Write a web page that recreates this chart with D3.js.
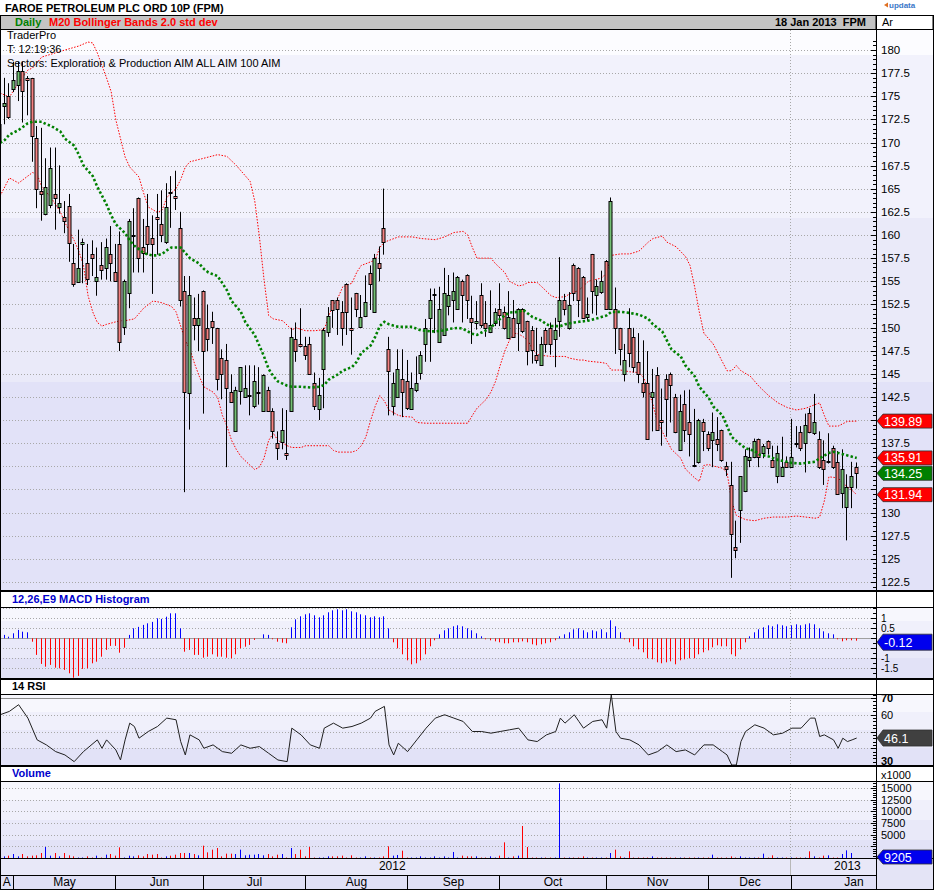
<!DOCTYPE html>
<html><head><meta charset="utf-8">
<script src="https://cdn.jsdelivr.net/npm/d3@7"></script>
<style>
body{margin:0;background:#fff;}
svg{display:block;font-family:"Liberation Sans",Arial,sans-serif;}
</style></head><body>
<svg id="c" width="934" height="890"></svg>
<script>
// ---------------- DATA ----------------
const monthStartIdx = [0, 3, 25, 44, 66, 88, 108, 131, 153, 171, 198];
const monthLabels = ["A","May","Jun","Jul","Aug","Sep","Oct","Nov","Dec","Jan"];
const yearLabels = ["2012","2013"];
const yearLabelIdx = [84.7, 183];
const yearBoundaryIdx = 170.7;

const open = [170.04,173.98,175.06,175.83,176.22,177.76,176.99,176.99,170.5,164.75,162.32,163.29,164.44,163.09,161.93,163.09,157.0,154.99,159.04,157.0,157.96,155.06,156.8,156.42,157.96,156.03,159.04,149.97,153.75,160.0,164.02,158.73,160.97,159.7,161.93,161.16,159.23,164.64,164.25,160.78,153.91,143.02,151.01,150.28,153.91,149.97,150.66,149.97,146.69,146.5,143.02,138.78,143.1,142.52,142.71,141.48,143.0,140.97,143.21,140.97,137.54,137.54,136.46,140.97,
148.73,148.23,148.04,148.23,143.99,141.21,145.53,149.5,152.98,152.98,151.71,154.72,149.97,153.71,149.97,151.24,155.95,151.71,157.0,160.78,147.65,141.48,142.52,144.45,144.18,141.21,143.21,145.14,148.23,151.05,153.56,148.42,149.2,152.4,152.98,152.01,155.06,155.68,151.05,150.47,153.56,150.47,149.5,150.47,152.01,151.71,148.81,151.05,150.47,152.01,150.74,149.78,147.07,145.92,149.78,149.97,148.81,150.66,152.98,149.97,156.8,156.45,155.49,
151.2,157.96,153.56,153.91,157.19,152.01,152.01,149.97,145.03,149.97,149.0,146.3,143.99,143.99,142.52,144.84,140.01,144.45,144.95,142.52,136.73,141.75,139.74,135.1,135.42,139.74,138.51,137.81,138.0,138.97,135.0,132.99,126.31,130.28,132.41,135.69,136.0,137.93,136.46,137.73,135.69,133.95,133.95,135.49,134.91,137.55,138.7,137.54,140.78,138.51,137.93,135.69,135.6,136.96,135.49,132.14,130.67,132.79,134.92];
const high = [172.55,176.99,176.41,178.73,178.73,178.73,177.18,176.99,171.78,171.59,168.3,169.46,169.46,167.53,163.67,164.44,159.04,160.58,159.62,159.04,159.43,158.65,159.23,159.62,160.97,159.04,160.39,155.18,161.74,162.9,164.06,161.74,164.44,162.13,164.44,164.83,165.6,166.37,166.95,162.51,155.57,155.57,153.25,153.64,154.02,152.48,151.71,149.97,147.65,148.23,144.95,143.6,145.72,145.92,145.92,145.92,145.72,144.95,143.6,141.28,138.78,141.28,141.09,149.97,
150.55,152.09,149.0,149.0,145.14,144.56,149.97,152.21,152.98,153.25,152.86,154.79,153.25,153.75,153.52,155.64,156.72,157.96,158.77,165.02,149.0,145.14,147.65,147.65,146.5,145.14,146.88,147.46,150.93,154.22,154.22,154.41,156.45,155.68,155.95,155.57,155.18,155.76,153.44,152.86,154.79,152.86,154.02,152.09,154.79,152.28,153.94,152.98,152.09,152.09,150.74,150.16,149.97,149.0,149.97,150.55,151.05,157.61,153.64,153.83,156.92,156.53,155.57,
153.25,157.96,155.18,156.15,157.3,164.06,154.33,149.97,148.23,152.09,149.97,149.4,148.62,147.46,145.53,145.72,143.41,144.95,145.14,142.83,142.75,143.21,143.29,141.21,140.13,140.13,138.78,140.82,140.32,138.97,135.49,135.49,129.13,133.95,136.84,137.04,138.0,138.0,137.42,137.81,137.23,137.23,138.2,136.07,140.13,139.35,139.35,140.7,141.28,142.83,138.78,137.81,138.58,137.23,136.65,136.84,134.14,135.49,135.42];
const low = [169.46,171.97,172.55,175.45,174.48,172.16,172.94,167.92,162.9,161.55,162.13,162.9,160.58,162.32,160.2,157.11,154.41,154.99,154.79,154.6,155.57,153.44,155.18,155.18,154.99,154.99,147.46,149.2,152.09,155.95,155.95,155.95,157.88,153.64,157.88,159.23,159.04,160.78,162.71,152.28,132.21,138.97,148.62,147.46,140.7,147.46,148.23,143.21,142.25,134.91,141.86,138.78,141.67,142.44,140.51,141.28,141.67,140.9,140.9,138.0,135.69,136.84,135.69,140.9,
146.3,147.85,146.5,144.95,141.09,140.01,141.28,149.0,149.97,149.2,148.04,149.2,147.07,151.13,149.97,151.13,151.9,151.71,154.99,157.88,140.51,140.51,142.44,140.32,141.09,141.09,143.02,144.37,146.3,146.3,149.4,148.42,149.2,151.32,150.55,151.9,150.55,150.93,148.23,149.78,149.97,149.0,149.4,150.16,150.16,149.78,148.81,149.0,147.46,149.4,145.92,146.11,146.11,145.92,147.27,147.07,145.72,149.0,151.32,149.78,152.86,151.13,150.93,
150.74,151.51,151.32,153.64,151.9,151.9,147.15,145.92,144.18,145.72,145.14,143.99,142.44,137.93,138.78,138.89,137.23,138.2,139.74,138.58,136.65,137.62,136.07,134.91,135.3,136.65,136.65,134.91,136.65,135.49,133.95,122.95,125.07,126.73,132.21,134.91,135.88,134.91,135.88,136.27,134.91,133.18,133.95,134.91,134.91,137.04,136.65,134.34,138.58,138.39,134.72,132.99,135.3,134.72,132.02,130.48,127.0,130.48,132.6];
const close = [171.97,174.29,172.74,176.8,177.76,175.64,176.72,170.74,165.02,164.44,165.22,167.26,163.98,163.48,161.55,159.04,154.72,156.45,159.23,155.26,157.5,155.49,156.26,158.73,157.0,155.06,148.5,154.99,161.55,160.05,157.57,158.08,159.04,159.04,161.74,160.0,163.02,164.5,164.02,152.98,143.02,153.56,150.28,151.01,147.46,148.81,149.97,144.49,144.95,143.48,141.94,143.21,145.72,143.48,142.75,144.18,143.05,144.84,140.97,138.78,137.04,138.89,136.19,149.0,
147.46,147.96,147.07,144.95,141.48,142.71,149.78,151.24,151.9,152.01,149.97,151.71,149.74,152.01,151.09,152.75,154.72,157.5,156.45,159.23,145.22,143.99,145.53,143.02,141.21,143.48,143.99,147.07,149.97,152.98,153.6,152.01,153.75,153.56,153.94,155.49,153.52,152.98,150.66,150.74,150.28,149.97,150.28,151.71,151.32,149.97,151.09,149.0,152.01,149.58,147.46,147.65,146.5,148.23,148.23,148.23,149.78,152.98,152.01,152.48,153.75,152.98,151.05,
151.51,153.91,154.52,155.06,152.01,163.67,149.97,147.73,146.5,147.27,145.72,144.95,143.02,137.93,143.02,138.89,139.74,142.33,143.72,138.78,140.97,138.89,138.47,135.05,140.01,138.78,136.96,138.7,137.5,135.69,134.72,127.7,125.96,133.95,136.15,136.0,137.73,136.0,137.23,136.96,134.91,136.46,134.91,134.91,136.0,137.5,136.96,139.47,138.7,139.74,134.91,134.72,135.61,134.91,132.02,134.72,132.79,133.95,134.25];

// volume in thousands
const volume = [100,357,500,857,357,857,357,500,571,1071,2356,500,1071,357,1071,571,357,100,100,357,100,500,100,714,857,500,2286,100,500,357,571,357,857,714,857,100,357,500,714,1071,1071,1071,857,571,2642,1214,1786,2143,357,929,929,857,1786,571,714,714,857,571,857,357,714,857,100,2143,857,
1786,357,2357,100,100,100,357,357,357,500,100,571,100,100,357,100,100,100,357,2500,500,643,1570,100,100,100,357,100,100,357,100,357,100,1290,100,500,357,357,357,100,100,357,100,500,3357,100,357,500,6860,2357,100,100,100,100,100,100,16000,100,100,100,100,357,100,100,100,100,100,1071,1786,357,100,1430,100,100,100,100,357,
100,100,100,100,100,100,100,100,100,100,100,100,714,100,100,100,357,100,357,100,100,100,100,929,100,571,100,100,100,100,100,100,100,1430,357,100,500,571,100,100,857,1643,1071,9.205];

const macd = [0.05,0.17,0.08,0.25,0.42,0.33,0.3,-0.17,-0.83,-1.28,-1.42,-1.33,-1.47,-1.5,-1.58,-1.75,-1.97,-1.88,-1.53,-1.5,-1.25,-1.17,-0.92,-0.58,-0.38,-0.38,-0.72,-0.47,0.17,0.5,0.57,0.67,0.75,0.82,1.0,0.97,1.08,1.25,1.25,0.5,-0.67,-0.58,-0.83,-0.83,-0.97,-0.92,-0.8,-0.92,-0.92,-0.97,-1.0,-0.8,-0.5,-0.42,-0.33,-0.08,0,0.2,0.17,-0.05,-0.17,-0.22,-0.25,0.55,0.95,
1.1,1.2,1.25,1.15,1.05,1.15,1.3,1.4,1.45,1.4,1.45,1.35,1.3,1.2,1.15,1.05,1.1,1.05,1.1,0.5,-0.2,-0.5,-0.8,-1.1,-1.3,-1.25,-1.1,-0.8,-0.4,-0.1,0.2,0.4,0.5,0.6,0.65,0.6,0.5,0.4,0.25,0.1,-0.05,-0.1,-0.15,-0.2,-0.25,-0.25,-0.2,-0.2,-0.15,-0.2,-0.3,-0.35,-0.3,-0.25,-0.2,-0.1,0.1,0.2,0.3,0.45,0.5,0.4,0.3,0.4,0.35,0.45,0.3,0.9,0.6,0.3,-0.05,-0.2,-0.4,-0.55,-0.7,-1.0,-1.05,-1.2,-1.25,-1.2,-1.15,-1.3,-1.1,-1.05,-1.0,-1.0,-0.8,-0.7,-0.6,-0.45,-0.35,-0.4,-0.4,-0.8,-0.9,-0.55,-0.2,0.1,0.3,0.45,0.55,0.65,0.6,0.7,0.65,0.6,0.65,0.7,0.65,0.7,0.75,0.7,0.5,0.35,0.25,0.2,-0.05,-0.15,-0.1,-0.1,-0.12];

const rsi = [[0,60],[2,62],[4,66],[6,58],[8,45],[10,42],[12,38],[14,36],[16,32],[18,38],[21,45],[22,40],[23,45],[24,42],[25,39],[26,33],[27,45],[28,55],[29,53],[30,46],[32,50],[34,53],[36,58],[38,57],[39,44],[40,36],[41,48],[43,45],[44,40],[46,42],[48,38],[50,37],[52,42],[54,40],[56,41],[58,37],[60,33],[62,32],[63,52],[65,48],[67,42],[69,40],[70,52],[72,55],[74,52],[76,53],[78,55],[80,58],[81,62],[83,65],[84,42],[85,36],[86,43],[88,38],[90,45],[92,52],[94,58],[96,60],[98,58],[100,56],[102,50],[104,50],[106,49],[108,50],[110,51],[112,52],[114,45],[116,44],[118,48],[120,50],[121,58],[122,55],[124,60],[125,56],[126,52],[128,56],[130,57],[131,52],[132,72],[133,50],[134,46],[136,45],[138,42],[140,36],[142,38],[144,42],[146,38],[148,39],[150,36],[152,42],[154,42],[156,38],[157,36],[158,30],[159,30],[160,44],[161,50],[163,54],[165,52],[167,48],[169,49],[171,52],[173,52],[175,58],[176,58],[177,47],[178,48],[180,45],[181,40],[182,46],[183,44],[184,45],[185,46.1]];

const bbUpper = [[0,175.35],[2,174.92],[4,176.43],[6,177.84],[7,178.05],[9,179.24],[14,180.0],[17,180.43],[19,180.86],[20,180.76],[21,179.68],[23,176.97],[24,175.46],[25,172.43],[27,168.43],[28,167.35],[30,166.27],[31,164.54],[32,163.03],[34,162.44],[35,162.7],[36,164.06],[38,165.02],[39,166.0],[40,167.35],[41,167.92],[44,168.3],[47,168.69],[49,168.5],[51,167.53],[54,165.8],[55,163.68],[56,159.81],[57,155.18],[58,151.31],[59,150.94],[61,150.74],[63,149.78],[64,149.96],[66,149.66],[68,149.66],[70,149.78],[71,151.31],[72,152.48],[73,153.25],[74,154.4],[76,154.8],[77,155.95],[78,156.72],[79,156.9],[81,157.3],[82,158.65],[83,159.24],[84,159.42],[86,159.8],[89,159.8],[91,159.62],[94,159.5],[96,159.8],[98,160.27],[100,160.4],[101,160.0],[102,158.65],[103,157.5],[106,157.5],[107,156.9],[109,155.95],[110,154.99],[112,154.5],[113,154.61],[114,154.87],[116,154.87],[117,154.4],[119,153.44],[120,153.25],[122,153.33],[123,153.64],[125,154.02],[126,154.5],[127,154.99],[130,155.37],[131,155.95],[132,157.8],[134,157.96],[136,157.96],[138,158.27],[140,159.24],[141,159.62],[143,159.89],[144,159.24],[146,158.73],[148,157.69],[149,156.72],[150,154.4],[151,151.7],[152,149.39],[154,148.23],[155,147.26],[157,145.33],[158,145.33],[159,145.9],[160,145.33],[162,144.75],[164,143.6],[166,142.64],[168,141.86],[170,141.36],[172,141.09],[174,141.28],[176,141.67],[177,141.86],[178,140.51],[179,139.35],[181,139.35],[183,139.86],[185,139.89]];
const bbMiddle = [[0,169.95],[1,170.27],[2,170.85],[4,171.35],[5,171.71],[6,172.09],[7,172.24],[9,172.24],[10,171.97],[11,171.79],[13,171.2],[14,170.42],[16,169.66],[17,168.69],[18,167.53],[20,166.38],[21,165.21],[22,164.25],[23,163.29],[24,162.12],[25,161.16],[27,160.2],[28,159.42],[29,158.85],[30,158.46],[31,158.07],[32,157.89],[33,157.8],[34,157.8],[35,157.96],[36,158.34],[37,158.65],[39,158.65],[40,158.07],[41,157.5],[43,156.91],[44,156.34],[45,155.95],[47,155.56],[48,154.8],[49,154.02],[50,152.86],[52,151.7],[53,150.55],[55,149.2],[56,148.04],[57,146.88],[58,145.53],[59,144.75],[60,144.18],[62,143.72],[63,143.6],[65,143.6],[67,143.52],[69,143.6],[70,143.79],[71,144.38],[73,144.95],[74,145.34],[76,145.73],[77,146.3],[78,147.26],[80,148.04],[81,149.0],[82,150.16],[83,150.62],[84,150.35],[86,150.08],[87,150.08],[89,150.08],[90,149.86],[91,149.69],[93,149.59],[94,149.59],[96,149.69],[97,149.86],[99,149.96],[100,149.86],[101,149.59],[102,149.32],[103,149.2],[104,149.47],[106,149.96],[107,150.55],[109,151.31],[110,151.63],[112,151.7],[113,151.9],[114,151.51],[115,151.13],[117,150.74],[118,150.35],[119,150.16],[121,150.16],[122,150.35],[124,150.55],[125,150.62],[127,150.74],[129,151.01],[131,151.31],[132,151.7],[134,151.7],[136,151.58],[138,151.4],[140,150.94],[141,150.35],[143,149.59],[144,148.61],[145,147.65],[147,146.88],[148,145.91],[150,144.75],[151,143.6],[153,142.44],[154,141.48],[156,140.51],[157,139.35],[158,138.19],[160,137.31],[161,136.96],[163,136.65],[164,136.27],[166,136.07],[167,135.88],[168,135.69],[170,135.49],[171,135.37],[173,135.3],[174,135.37],[176,135.49],[177,135.88],[179,136.45],[180,136.57],[181,136.45],[183,136.18],[185,135.91]];
const bbLower = [[0,164.22],[2,166.17],[4,165.62],[6,166.38],[7,166.76],[8,166.57],[9,165.21],[11,164.06],[13,162.51],[14,161.35],[16,159.42],[17,158.26],[18,156.72],[19,153.44],[20,151.7],[21,150.55],[22,150.16],[23,150.35],[25,150.62],[26,150.74],[27,150.74],[29,150.94],[30,151.51],[31,152.09],[32,152.48],[33,152.86],[34,152.79],[35,152.67],[36,152.48],[37,152.29],[38,151.7],[39,150.16],[40,148.61],[41,147.65],[42,146.1],[43,144.75],[44,143.6],[46,143.02],[47,142.44],[48,140.51],[49,139.35],[50,137.8],[51,136.84],[52,136.07],[54,135.1],[55,134.65],[56,134.92],[57,135.88],[58,137.8],[59,138.58],[60,137.8],[62,137.23],[63,137.04],[65,137.04],[66,137.23],[68,137.23],[71,137.23],[72,136.72],[73,136.54],[76,136.54],[77,136.72],[78,137.23],[79,138.19],[80,139.93],[81,141.48],[82,142.64],[83,142.05],[84,141.09],[86,140.51],[87,140.4],[89,140.32],[90,139.74],[92,139.66],[95,139.66],[98,139.66],[101,139.66],[102,140.51],[103,141.28],[105,142.25],[106,143.02],[107,144.18],[108,145.91],[109,147.46],[110,148.61],[111,149.39],[112,149.31],[113,149.0],[114,148.61],[115,147.65],[116,147.08],[117,146.99],[119,146.88],[122,146.88],[123,146.69],[125,146.49],[126,146.49],[127,146.37],[130,146.22],[131,146.1],[132,145.41],[134,145.41],[136,145.22],[138,145.14],[139,144.56],[140,143.21],[141,141.67],[142,139.74],[144,137.8],[145,136.84],[147,135.88],[148,134.72],[150,133.75],[151,133.37],[152,135.1],[153,135.19],[155,134.92],[156,134.8],[157,134.33],[158,131.24],[159,129.69],[161,129.24],[163,129.12],[165,129.39],[167,129.52],[170,129.52],[172,129.63],[174,129.52],[176,129.39],[177,129.52],[178,131.24],[179,133.87],[181,133.75],[182,133.18],[184,132.4],[185,131.94]];

const priceTicks = [122.5,125,127.5,130,132.5,135,137.5,140,142.5,145,147.5,150,152.5,155,157.5,160,162.5,165,167.5,170,172.5,175,177.5,180];
const macdTicks = [-2,-1.5,-1,-0.5,0,0.5,1,1.5];
const rsiTicks = [30,40,50,60,70];
const volTicks = [0,2500,5000,7500,10000,12500,15000];
const lastTags = [
  {v:139.89, c:"#ff0000"}, {v:135.91, c:"#ff0000"}, {v:134.25, c:"#008000"}, {v:131.94, c:"#ff0000"}
];

// ---------------- LAYOUT ----------------
const svg = d3.select("#c");
const R = 876, W = 934;
const P = {top:30, bot:591}, M = {top:607, bot:679}, Rs = {top:694, bot:766}, V = {top:781, bot:858};
const x = d3.scaleLinear().domain([0,185]).range([0.1,856.7]);
const yP = d3.scaleLinear().domain([122.5,180]).range([582,50]);
const yM = d3.scaleLinear().domain([-2,1.5]).range([678.3,608.3]);
const yR = d3.scaleLinear().domain([30,70]).range([765,698]);
const yV = d3.scaleLinear().domain([0,15000]).range([858,788]);

const defs = svg.append("defs");
function clip(id, y0, y1, x0=0, x1=R){
  defs.append("clipPath").attr("id",id).append("rect").attr("x",x0).attr("y",y0).attr("width",x1-x0).attr("height",y1-y0);
  return "url(#"+id+")";
}

svg.append("rect").attr("width",W).attr("height",890).attr("fill","#fff");

function bands(list){
  list.forEach(b=>svg.append("rect").attr("x",0).attr("y",b[0]).attr("width",W).attr("height",b[1]-b[0]).attr("fill",b[2]));
}
bands([[30,55,"#fcfcff"],[55,218,"#f2f2fc"],[218,382,"#eaeaf9"],[382,591,"#e2e2f8"]]);
bands([[607,621,"#f7f7fd"],[621,638,"#f0f0fb"],[638,658,"#e9e9f9"],[658,679,"#e2e2f7"]]);
bands([[694,712,"#f7f7fd"],[712,730,"#f0f0fb"],[730,748,"#e9e9f9"],[748,766,"#e2e2f7"]]);
bands([[781,800,"#f7f7fd"],[800,820,"#f0f0fb"],[820,840,"#e9e9f9"],[840,858,"#e2e2f7"]]);
svg.append("rect").attr("x",0).attr("y",858).attr("width",W).attr("height",17).attr("fill","#e8e8f8");
svg.append("rect").attr("x",0).attr("y",875).attr("width",W).attr("height",15).attr("fill","#e0e0f6");

function hgrid(vals, scale){
  svg.append("g").selectAll("line").data(vals).join("line")
    .attr("x1",0).attr("x2",R).attr("y1",d=>Math.round(scale(d))+0.5).attr("y2",d=>Math.round(scale(d))+0.5)
    .attr("stroke","#a8a8a8").attr("stroke-dasharray","1,2");
}
hgrid(priceTicks, yP);
hgrid(macdTicks.filter(d=>d!==0), yM);
svg.append("line").attr("x1",0).attr("x2",R).attr("y1",Math.round(yM(0))+0.5).attr("y2",Math.round(yM(0))+0.5).attr("stroke","#a0a0a0");
hgrid([40,50,60], yR);
[70,30].forEach(v=>svg.append("line").attr("x1",0).attr("x2",R).attr("y1",Math.round(yR(v))+0.5).attr("y2",Math.round(yR(v))+0.5).attr("stroke","#8c8c8c"));
hgrid(volTicks.filter(d=>d>0), yV);

const xYear = Math.round(x(yearBoundaryIdx))+0.5;
[[P.top,P.bot],[M.top,M.bot],[Rs.top,Rs.bot],[V.top,V.bot]].forEach(s=>
  svg.append("line").attr("x1",xYear).attr("x2",xYear).attr("y1",s[0]).attr("y2",s[1]).attr("stroke","#a8a8a8").attr("stroke-dasharray","1,2"));
svg.append("line").attr("x1",xYear).attr("x2",xYear).attr("y1",858).attr("y2",875).attr("stroke","#b8b8b8");

// ---------------- PRICE PANEL ----------------
const gP = svg.append("g").attr("clip-path", clip("cp", P.top, P.bot));
const idx = d3.range(open.length);
const lineGen = d3.line().x(d=>x(d[0])).y(d=>yP(d[1])).curve(d3.curveLinear);
gP.append("path").attr("d",lineGen(bbUpper)).attr("fill","none").attr("stroke","#ff0000").attr("stroke-width",1).attr("stroke-dasharray","1.5,1.5");
gP.append("path").attr("d",lineGen(bbLower)).attr("fill","none").attr("stroke","#ff0000").attr("stroke-width",1).attr("stroke-dasharray","1.5,1.5");

const cg = gP.append("g");
idx.forEach(i=>{
  const R0 = Math.round(x(i));
  const up = close[i] >= open[i];
  cg.append("line").attr("x1",R0-0.5).attr("x2",R0-0.5)
    .attr("y1",yP(high[i])).attr("y2",yP(low[i])).attr("stroke","#000").attr("stroke-width",1);
  const yt = yP(Math.max(open[i],close[i])), yb = yP(Math.min(open[i],close[i]));
  const top = Math.round(yt)+0.5, h = Math.max(1, Math.round(yb - yt));
  cg.append("rect").attr("x",R0-2).attr("y",top).attr("width",3).attr("height",h)
    .attr("fill", up ? "#74c074" : "#f48282").attr("stroke","#000").attr("stroke-width",1);
});
gP.append("path").attr("d",lineGen(bbMiddle)).attr("fill","none").attr("stroke","#008000").attr("stroke-width",2.6).attr("stroke-dasharray","2.4,2.2");

const info = svg.append("g").attr("font-size","11px").attr("fill","#000");
info.append("text").attr("x",7).attr("y",39).text("TraderPro");
info.append("text").attr("x",7).attr("y",53).text("T: 12:19:36");
info.append("text").attr("x",7).attr("y",67).text("Sectors: Exploration & Production AIM ALL AIM 100 AIM");

// ---------------- MACD ----------------
const gM = svg.append("g").attr("clip-path", clip("cm", M.top, M.bot));
gM.selectAll("line.m").data(idx).join("line")
  .attr("x1",i=>Math.round(x(i))-0.5).attr("x2",i=>Math.round(x(i))-0.5)
  .attr("y1",yM(0)).attr("y2",i=>yM(macd[i]))
  .attr("stroke",i=>macd[i]>=0?"#0000ff":"#ff0000").attr("stroke-width",1);

// ---------------- RSI ----------------
const gR = svg.append("g").attr("clip-path", clip("cr", Rs.top, Rs.bot));
gR.append("path").attr("d", d3.line().x(d=>x(d[0])).y(d=>yR(d[1]))(rsi)).attr("fill","none").attr("stroke","#202020").attr("stroke-width",1);

// ---------------- VOLUME ----------------
const gV = svg.append("g").attr("clip-path", clip("cv", V.top, V.bot));
gV.selectAll("line.v").data(idx).join("line")
  .attr("x1",i=>Math.round(x(i))-0.5).attr("x2",i=>Math.round(x(i))-0.5)
  .attr("y1",yV(0)).attr("y2",i=>yV(volume[i]))
  .attr("stroke",i=>close[i]>=open[i]?"#0000ff":"#ff0000").attr("stroke-width",1);

// ---------------- HEADERS ----------------
svg.append("text").attr("x",5).attr("y",11.5).attr("font-size","11px").attr("font-weight","bold").text("FAROE PETROLEUM PLC ORD 10P (FPM)");
const lg = svg.append("g");
lg.append("path").attr("d","M884,5 L888,2.5 L888,7.5 Z").attr("fill","#e07020");
lg.append("text").attr("x",889).attr("y",8).attr("font-size","8px").attr("fill","#3a78c8").attr("font-weight","bold").text("updata");
svg.append("rect").attr("x",0.5).attr("y",15.5).attr("width",R-0.5).attr("height",14).attr("fill","#c4c4c4").attr("stroke","#000");
svg.append("rect").attr("x",R+0.5).attr("y",15.5).attr("width",W-R-1.5).attr("height",14).attr("fill","#fff").attr("stroke","#000");
svg.append("text").attr("x",15).attr("y",26).attr("font-size","11px").attr("font-weight","bold").attr("fill","#008000").text("Daily");
svg.append("text").attr("x",49).attr("y",26).attr("font-size","11px").attr("font-weight","bold").attr("fill","#ff0000").text("M20 Bollinger Bands 2.0 std dev");
svg.append("text").attr("x",866).attr("y",26).attr("font-size","11px").attr("font-weight","bold").attr("text-anchor","end").text("18 Jan 2013\u00a0\u00a0FPM");
svg.append("text").attr("x",882).attr("y",26).attr("font-size","11px").text("Ar");

function header(y0, y1, label, color, rightLabel){
  svg.append("rect").attr("x",0).attr("y",y0).attr("width",W).attr("height",y1-y0).attr("fill","#fff");
  svg.append("text").attr("x",12).attr("y",y1-4).attr("font-size","11px").attr("font-weight","bold").attr("fill",color).text(label);
  if(rightLabel) svg.append("text").attr("x",881).attr("y",y1-2.5).attr("font-size","11px").text(rightLabel);
}
header(592, 607, "12,26,E9 MACD Histogram", "#0000cc");
header(680, 694, "14 RSI", "#000");
header(767, 781, "Volume", "#0000cc", "x1000");

function hline(y, w=1){ svg.append("line").attr("x1",0).attr("x2",W).attr("y1",y).attr("y2",y).attr("stroke","#000").attr("stroke-width",w); }
hline(591,2); hline(607.5); hline(679,2); hline(694.5); hline(766,2); hline(781.5); hline(858.5); hline(875.5); hline(889.5);
svg.append("line").attr("x1",R+0.5).attr("x2",R+0.5).attr("y1",15).attr("y2",889).attr("stroke","#000");
svg.append("line").attr("x1",0.5).attr("x2",0.5).attr("y1",15).attr("y2",889).attr("stroke","#000");
svg.append("line").attr("x1",W-0.5).attr("x2",W-0.5).attr("y1",15).attr("y2",889).attr("stroke","#000");

// ---------------- RIGHT AXES ----------------
function rightAxis(opt){
  const {scale, ticks, minorStep, domain, y0, y1, fs, boldSet, tagYs, yOff} = opt;
  const g = svg.append("g").attr("clip-path", clip("ra"+y0, y0, y1, R-8, W));
  const minors = d3.range(domain[0], domain[1]+1e-9, minorStep);
  g.selectAll("line.mi").data(minors).join("line")
    .attr("x1",R-3).attr("x2",R).attr("y1",d=>Math.round(scale(d))+0.5).attr("y2",d=>Math.round(scale(d))+0.5).attr("stroke","#000");
  g.selectAll("line.ma").data(ticks).join("line")
    .attr("x1",R-5).attr("x2",R).attr("y1",d=>Math.round(scale(d))+0.5).attr("y2",d=>Math.round(scale(d))+0.5).attr("stroke","#000");
  const shown = ticks.filter(d=>!(tagYs||[]).some(t=>Math.abs(scale(d)-t)<11));
  g.selectAll("text").data(shown).join("text")
    .attr("x",881).attr("y",d=>Math.min(scale(d)+(yOff||4), y1-1)).attr("font-size",fs||"11.5px")
    .attr("font-weight",d=>boldSet&&boldSet.includes(d)?"bold":"normal").text(d=>d);
}
const macdLast = macd[macd.length-1], rsiLast = rsi[rsi.length-1][1];
rightAxis({scale:yP, ticks:priceTicks, minorStep:0.5, domain:[120,181], y0:P.top, y1:P.bot, tagYs:lastTags.map(t=>yP(t.v))});
rightAxis({scale:yM, ticks:macdTicks.filter(d=>d>-2&&d<1.5), minorStep:0.25, domain:[-2.5,2], y0:M.top+1, y1:M.bot-1, fs:"10px", yOff:3.5, tagYs:[yM(macdLast)+1.5]});
rightAxis({scale:yR, ticks:rsiTicks, minorStep:2, domain:[28,72], y0:Rs.top+1, y1:Rs.bot, fs:"11px", boldSet:[70,30], tagYs:[yR(rsiLast)]});
rightAxis({scale:yV, ticks:volTicks.filter(d=>d>0), minorStep:500, domain:[0,16000], y0:V.top+1, y1:V.bot, fs:"11px", tagYs:[857]});

function tag(yc, color, text, hh=7){
  const g = svg.append("g");
  g.append("path").attr("d",`M${R+1},${yc} L${R+7},${yc-hh} L${W-2},${yc-hh} L${W-2},${yc+hh} L${R+7},${yc+hh} Z`)
    .attr("fill",color).attr("stroke","#303030").attr("stroke-width",0.8);
  g.append("text").attr("x",R+8).attr("y",yc+4.5).attr("font-size","12.5px").attr("fill","#fff").text(text);
}
lastTags.forEach(t=>tag(yP(t.v), t.c, t.v.toFixed(2)));
tag(yM(macdLast)+1.5, "#0000ee", macdLast.toFixed(2), 8);
tag(yR(rsiLast), "#404040", rsiLast.toFixed(1), 8);

// ---------------- BOTTOM AXIS ----------------
const mb = monthStartIdx.map(i=>i===0?0:Math.round(x(i))-0.5);
mb.slice(1,-1).forEach(b=>svg.append("line").attr("x1",b).attr("x2",b).attr("y1",875).attr("y2",889).attr("stroke","#000"));
monthLabels.forEach((m,k)=>{
  const cx = (mb[k]+mb[k+1])/2;
  svg.append("text").attr("x",cx).attr("y",886).attr("text-anchor","middle").attr("font-size","12px").text(m);
});
yearLabels.forEach((yl,k)=>svg.append("text").attr("x",x(yearLabelIdx[k])).attr("y",870).attr("text-anchor","middle").attr("font-size","12px").text(yl));
svg.append("rect").attr("x",R+1).attr("y",859).attr("width",W-R-2).attr("height",30).attr("fill","#e4e4f6");
svg.append("line").attr("x1",R+0.5).attr("x2",R+0.5).attr("y1",858).attr("y2",889).attr("stroke","#000");
tag(857, "#0000ee", String(Math.round(volume[volume.length-1]*1000)), 7);
</script>
</body></html>
